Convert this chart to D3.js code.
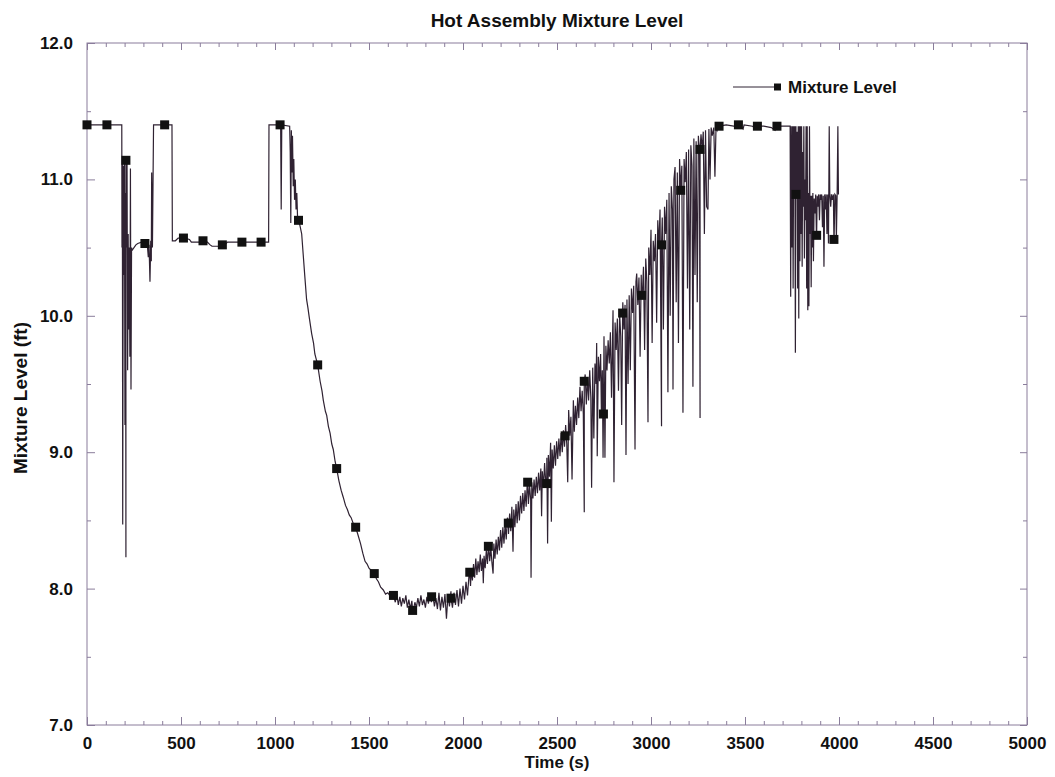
<!DOCTYPE html>
<html>
<head>
<meta charset="utf-8">
<script src="https://cdn.jsdelivr.net/npm/d3@7"></script>
<style>
  body { margin: 0; background: #fff; }
  text { font-family: "Liberation Sans", Arial, Helvetica, sans-serif; font-weight: bold; fill: #111; }
</style>
</head>
<body>
<div id="chart"></div>
<script>
// Hot assembly mixture level, [time (s), level (ft)]
var startPhase = [
  [0, 11.4], [185, 11.4], [186, 10.5], [188, 11.15], [190, 8.47], [193, 11.1], [196, 10.3],
  [199, 11.14], [202, 9.2], [205, 10.9], [207, 8.23], [210, 10.5], [213, 11.14], [216, 9.6],
  [219, 10.6], [222, 9.9], [225, 10.5], [228, 9.7], [231, 11.08], [234, 9.46], [237, 10.5],
  [240, 10.48], [250, 10.5], [260, 10.52], [270, 10.53], [290, 10.54], [300, 10.53],
  [315, 10.52], [322, 10.5], [326, 10.43], [330, 10.52], [335, 10.25], [339, 10.55],
  [342, 10.4], [344, 11.05], [348, 10.5], [351, 10.95], [354, 11.4]
];

var firstPlateau = [
  [354, 11.4], [452, 11.4], [454, 10.55], [470, 10.55], [485, 10.57], [520, 10.57],
  [545, 10.56], [555, 10.54], [600, 10.54], [640, 10.54], [655, 10.52], [665, 10.51],
  [700, 10.51], [730, 10.52], [748, 10.54], [790, 10.54], [850, 10.54], [910, 10.54],
  [966, 10.54], [968, 11.4]
];

var drainDown = [
  [968, 11.4], [1030, 11.4], [1033, 10.78], [1036, 11.4], [1078, 11.39], [1081, 11.2],
  [1084, 10.68], [1087, 11.36], [1090, 11.05], [1093, 11.32], [1097, 10.95], [1100, 11.15],
  [1104, 10.85], [1108, 11.0], [1112, 10.78], [1116, 10.9], [1120, 10.72], [1125, 10.7],
  [1133, 10.66], [1142, 10.6], [1150, 10.45], [1158, 10.3], [1168, 10.12], [1175, 10.06],
  [1182, 9.99], [1195, 9.87], [1205, 9.8], [1212, 9.72], [1227, 9.64], [1240, 9.52],
  [1250, 9.45], [1257, 9.38], [1268, 9.3], [1275, 9.27], [1284, 9.19], [1293, 9.14],
  [1302, 9.06], [1310, 9.02], [1320, 8.93], [1328, 8.88], [1340, 8.79], [1352, 8.72],
  [1363, 8.67], [1375, 8.61], [1385, 8.58], [1395, 8.54], [1405, 8.52], [1418, 8.47],
  [1429, 8.45], [1440, 8.4], [1455, 8.33], [1467, 8.26], [1479, 8.2], [1490, 8.18],
  [1500, 8.15], [1515, 8.13], [1528, 8.11], [1540, 8.07], [1550, 8.05], [1562, 8.01],
  [1576, 7.99], [1588, 7.96], [1600, 7.97], [1615, 7.94], [1630, 7.95]
];

var trough = [
  [1640, 7.9], [1648, 7.96], [1656, 7.88], [1664, 7.94], [1672, 7.87], [1680, 7.93],
  [1688, 7.89], [1696, 7.95], [1704, 7.86], [1712, 7.92], [1720, 7.85], [1728, 7.91],
  [1736, 7.84], [1744, 7.9], [1752, 7.86], [1760, 7.93], [1768, 7.87], [1776, 7.95],
  [1784, 7.88], [1792, 7.92], [1800, 7.86], [1808, 7.94], [1816, 7.89], [1824, 7.96],
  [1832, 7.9], [1840, 7.95], [1848, 7.87], [1856, 7.93], [1864, 7.85], [1872, 7.97],
  [1880, 7.84], [1888, 7.94], [1896, 7.86], [1904, 7.96], [1912, 7.78], [1920, 7.95],
  [1928, 7.87], [1936, 7.98], [1944, 7.86], [1952, 7.97], [1960, 7.88], [1968, 7.99],
  [1976, 7.87], [1984, 8.0], [1992, 7.89], [2000, 8.02], [2008, 7.92], [2016, 8.05],
  [2024, 7.95], [2032, 8.1], [2040, 8.02]
];

var refill = [
  [2044, 8.14], [2050, 8.06], [2056, 8.18], [2062, 8.08], [2068, 8.22], [2074, 8.1],
  [2080, 8.2], [2086, 8.12], [2092, 8.25], [2098, 8.13], [2104, 8.22], [2108, 8.04],
  [2112, 8.24], [2118, 8.15], [2124, 8.28], [2130, 8.18], [2136, 8.32], [2142, 8.2],
  [2148, 8.3], [2154, 8.19], [2160, 8.11], [2164, 8.33], [2170, 8.22], [2176, 8.36],
  [2182, 8.25], [2188, 8.38], [2194, 8.28], [2200, 8.43], [2206, 8.3], [2212, 8.45],
  [2218, 8.33], [2224, 8.47], [2230, 8.36], [2236, 8.52], [2242, 8.4], [2248, 8.55],
  [2254, 8.42], [2260, 8.6], [2266, 8.27], [2270, 8.58], [2276, 8.45], [2282, 8.62],
  [2288, 8.48], [2294, 8.64], [2300, 8.5], [2306, 8.68], [2312, 8.55], [2318, 8.7],
  [2324, 8.57], [2330, 8.72], [2336, 8.6], [2342, 8.78], [2348, 8.62], [2354, 8.76],
  [2360, 8.65], [2362, 8.08], [2366, 8.78], [2372, 8.66], [2378, 8.8], [2384, 8.68],
  [2390, 8.82], [2396, 8.7], [2402, 8.85], [2408, 8.72], [2414, 8.88], [2418, 8.53],
  [2422, 8.86], [2428, 8.74], [2434, 8.92], [2440, 8.78], [2446, 8.96], [2450, 8.33],
  [2454, 8.98], [2460, 8.82], [2466, 9.07], [2470, 8.49], [2474, 9.02], [2480, 8.88],
  [2486, 9.05], [2492, 8.9], [2498, 9.08], [2504, 8.95], [2510, 9.1], [2516, 8.97],
  [2522, 9.14], [2528, 9.0], [2534, 9.16], [2540, 9.04], [2546, 9.2], [2552, 9.06],
  [2557, 8.78], [2562, 9.31], [2568, 9.12], [2574, 9.26], [2580, 8.8], [2587, 9.38],
  [2592, 9.15], [2598, 9.34], [2604, 9.2], [2610, 9.4], [2616, 9.25], [2622, 9.48],
  [2628, 9.3], [2634, 9.45], [2640, 9.28], [2645, 8.56], [2650, 9.57], [2656, 9.35],
  [2662, 9.55], [2668, 9.38], [2674, 9.6], [2680, 9.4], [2684, 8.74], [2690, 9.62],
  [2696, 9.1], [2702, 9.65], [2708, 9.5], [2711, 9.8], [2714, 8.97], [2720, 9.7],
  [2726, 9.52], [2732, 9.72], [2736, 9.3], [2741, 9.6], [2745, 8.96], [2750, 9.85],
  [2755, 8.96], [2760, 9.78], [2766, 9.6], [2772, 9.82], [2778, 9.65], [2784, 9.88],
  [2790, 9.4], [2798, 10.04], [2803, 8.78], [2809, 9.95], [2815, 9.75], [2821, 9.98],
  [2827, 9.45], [2833, 10.02], [2839, 9.85], [2844, 9.2], [2850, 10.1], [2856, 9.9],
  [2862, 10.08], [2867, 8.98], [2872, 10.12], [2878, 9.5], [2884, 10.15], [2890, 9.6],
  [2896, 10.2], [2902, 10.02], [2908, 10.22], [2915, 9.02], [2920, 10.25], [2924, 10.31],
  [2930, 10.08], [2936, 10.28], [2942, 9.7], [2948, 10.3], [2954, 10.15], [2960, 10.36],
  [2966, 9.75], [2972, 10.42], [2978, 10.25], [2984, 9.22], [2988, 10.5], [2994, 10.3],
  [3000, 10.63], [3006, 9.8], [3012, 10.55], [3018, 10.4], [3024, 10.6], [3030, 9.95],
  [3036, 10.7], [3042, 10.5], [3048, 10.78], [3056, 9.19], [3060, 10.72], [3066, 9.9],
  [3072, 10.8], [3078, 10.6], [3084, 10.85], [3090, 9.44], [3096, 10.9], [3102, 10.0],
  [3108, 10.95], [3114, 10.78], [3117, 9.46], [3122, 11.0], [3128, 11.09], [3134, 10.1],
  [3140, 11.05], [3146, 9.8], [3152, 11.15], [3158, 10.92], [3164, 11.1], [3170, 9.29],
  [3176, 11.15], [3182, 10.98], [3188, 11.2], [3194, 10.2], [3200, 11.22], [3206, 9.9],
  [3212, 11.25], [3218, 11.1], [3223, 9.48], [3228, 11.3], [3234, 10.3], [3240, 11.28],
  [3246, 10.1], [3252, 11.32], [3258, 11.18], [3261, 9.25], [3266, 11.33], [3272, 11.22],
  [3278, 11.35], [3284, 10.6], [3290, 11.36], [3296, 10.8], [3303, 10.78], [3308, 11.37],
  [3314, 11.0], [3320, 11.38], [3326, 11.32], [3334, 11.38], [3340, 11.02], [3346, 11.39],
  [3352, 11.36], [3360, 11.4]
];

var fullLevel = [
  [3360, 11.4], [3400, 11.4], [3440, 11.39], [3470, 11.4], [3490, 11.37], [3495, 11.4],
  [3540, 11.39], [3560, 11.37], [3565, 11.39], [3600, 11.39], [3640, 11.38], [3660, 11.36],
  [3665, 11.39], [3700, 11.39], [3738, 11.39]
];

var endOscillation = [
  [3740, 11.39], [3743, 10.14], [3746, 11.39], [3750, 10.5], [3753, 11.39], [3756, 10.2],
  [3759, 11.39], [3762, 10.9], [3765, 11.39], [3768, 9.73], [3771, 11.39], [3774, 10.89],
  [3777, 11.35], [3780, 10.2], [3783, 11.39], [3786, 9.98], [3789, 11.39], [3792, 10.4],
  [3795, 11.39], [3798, 10.6], [3801, 11.39], [3804, 10.36], [3807, 11.2], [3810, 10.8],
  [3813, 11.39], [3816, 10.42], [3819, 11.0], [3822, 10.7], [3825, 11.39], [3828, 10.2],
  [3831, 11.39], [3834, 10.04], [3837, 10.9], [3840, 10.07], [3843, 11.39], [3846, 10.6],
  [3849, 10.88], [3852, 10.21], [3855, 10.88], [3858, 10.5], [3861, 10.9], [3864, 10.4],
  [3868, 10.86], [3872, 10.75], [3876, 10.89], [3880, 10.59], [3884, 10.88], [3888, 10.8],
  [3892, 10.89], [3896, 10.7], [3900, 10.89], [3904, 10.85], [3908, 10.89], [3912, 10.65],
  [3916, 10.88], [3920, 10.36], [3924, 10.89], [3928, 10.78], [3932, 10.89], [3936, 10.6],
  [3940, 10.89], [3944, 10.53], [3948, 11.39], [3951, 10.89], [3956, 10.8], [3960, 10.89],
  [3965, 10.85], [3970, 10.89], [3974, 10.56], [3978, 10.89], [3983, 10.88], [3986, 10.56],
  [3990, 10.88], [3994, 11.39], [3997, 10.89]
];

// plotted symbols
var markerTimes = [0, 106, 207, 308, 413, 513, 617, 720, 824, 926, 1027, 1125, 1227, 1328,
  1429, 1528, 1630, 1732, 1833, 1936, 2036, 2135, 2241, 2344, 2445, 2543, 2645, 2747, 2849,
  2950, 3056, 3158, 3261, 3362, 3465, 3566, 3670, 3771, 3881, 3973];
var markerLevels = [11.4, 11.4, 11.14, 10.53, 11.4, 10.57, 10.55, 10.52, 10.54, 10.54, 11.4,
  10.7, 9.64, 8.88, 8.45, 8.11, 7.95, 7.84, 7.94, 7.93, 8.12, 8.31, 8.48, 8.78, 8.77, 9.12,
  9.52, 9.28, 10.02, 10.15, 10.52, 10.92, 11.22, 11.39, 11.4, 11.39, 11.39, 10.89, 10.59, 10.56];

var xTicks = [0, 500, 1000, 1500, 2000, 2500, 3000, 3500, 4000, 4500, 5000];
var yTicks = [7, 8, 9, 10, 11, 12];

var width = 1055, height = 777;
var margin = { top: 43, right: 28, bottom: 52, left: 87 };
var frameColor = "#8a7d9b";
var lineColor = "#2f2232";

var svg = d3.select("#chart").append("svg")
  .attr("width", width)
  .attr("height", height);

var x = d3.scaleLinear().domain([0, 5000]).range([margin.left, width - margin.right]);
var y = d3.scaleLinear().domain([7, 12]).range([height - margin.bottom, margin.top]);

var markers = markerTimes.map(function (t, i) { return [t, markerLevels[i]]; });
var series = [].concat(startPhase, firstPlateau, drainDown, trough, refill, fullLevel,
  endOscillation, markers)
  .sort(function (a, b) { return a[0] - b[0]; });

// minor ticks every 100 s / 0.5 ft, majors at the labelled values
var xMinor = d3.range(0, 5001, 100).filter(function (d) { return d % 500 !== 0; });
var yMinor = d3.range(7.5, 12, 1);

function tickAxis(axis, transform) {
  var g = svg.append("g").attr("transform", transform).call(axis);
  g.select(".domain").remove();
  g.selectAll(".tick line").attr("stroke", frameColor).attr("stroke-width", 1);
  return g;
}

var bottomY = height - margin.bottom, rightX = width - margin.right;

// major ticks with labels
var gx = tickAxis(d3.axisBottom(x).tickValues(xTicks).tickSize(-8).tickPadding(12)
  .tickFormat(d3.format("d")), "translate(0," + bottomY + ")");
gx.selectAll("text").style("font-size", "17px").attr("fill", "#111");

var gy = tickAxis(d3.axisLeft(y).tickValues(yTicks).tickSize(-8).tickPadding(14)
  .tickFormat(d3.format(".1f")), "translate(" + margin.left + ",0)");
gy.selectAll("text").style("font-size", "17px").attr("fill", "#111");

// remaining ticks on all four sides
tickAxis(d3.axisBottom(x).tickValues(xMinor).tickSize(-4).tickFormat(""), "translate(0," + bottomY + ")");
tickAxis(d3.axisTop(x).tickValues(xTicks).tickSize(-7).tickFormat(""), "translate(0," + margin.top + ")");
tickAxis(d3.axisTop(x).tickValues(xMinor).tickSize(-4).tickFormat(""), "translate(0," + margin.top + ")");
tickAxis(d3.axisLeft(y).tickValues(yMinor).tickSize(-4).tickFormat(""), "translate(" + margin.left + ",0)");
tickAxis(d3.axisRight(y).tickValues(yTicks).tickSize(-7).tickFormat(""), "translate(" + rightX + ",0)");
tickAxis(d3.axisRight(y).tickValues(yMinor).tickSize(-4).tickFormat(""), "translate(" + rightX + ",0)");

// plot frame
svg.append("rect")
  .attr("x", margin.left)
  .attr("y", margin.top)
  .attr("width", rightX - margin.left)
  .attr("height", bottomY - margin.top)
  .attr("fill", "none")
  .attr("stroke", frameColor)
  .attr("stroke-width", 1);

var line = d3.line()
  .x(function (d) { return x(d[0]); })
  .y(function (d) { return y(d[1]); });

svg.append("path")
  .datum(series)
  .attr("d", line)
  .attr("fill", "none")
  .attr("stroke", lineColor)
  .attr("stroke-width", 1.2)
  .attr("stroke-linejoin", "miter");

var size = 9;
svg.append("g")
  .selectAll("rect")
  .data(markers)
  .enter()
  .append("rect")
  .attr("x", function (d) { return x(d[0]) - size / 2; })
  .attr("y", function (d) { return y(d[1]) - size / 2; })
  .attr("width", size)
  .attr("height", size)
  .attr("fill", "#111");

// title and axis titles
svg.append("text")
  .attr("x", 557).attr("y", 27)
  .attr("text-anchor", "middle")
  .style("font-size", "19px")
  .text("Hot Assembly Mixture Level");

svg.append("text")
  .attr("x", (margin.left + rightX) / 2).attr("y", 768)
  .attr("text-anchor", "middle")
  .style("font-size", "17px")
  .text("Time (s)");

svg.append("text")
  .attr("transform", "translate(27," + 398 + ") rotate(-90)")
  .attr("text-anchor", "middle")
  .style("font-size", "19px")
  .text("Mixture Level (ft)");

// legend
var legend = svg.append("g").attr("transform", "translate(733,87)");
legend.append("line")
  .attr("x1", 0).attr("x2", 44)
  .attr("stroke", lineColor).attr("stroke-width", 1);
legend.append("rect")
  .attr("x", 41).attr("y", -3.5)
  .attr("width", 7).attr("height", 7)
  .attr("fill", "#111");
legend.append("text")
  .attr("x", 55).attr("y", 6)
  .style("font-size", "17px")
  .text("Mixture Level");
</script>
</body>
</html>
